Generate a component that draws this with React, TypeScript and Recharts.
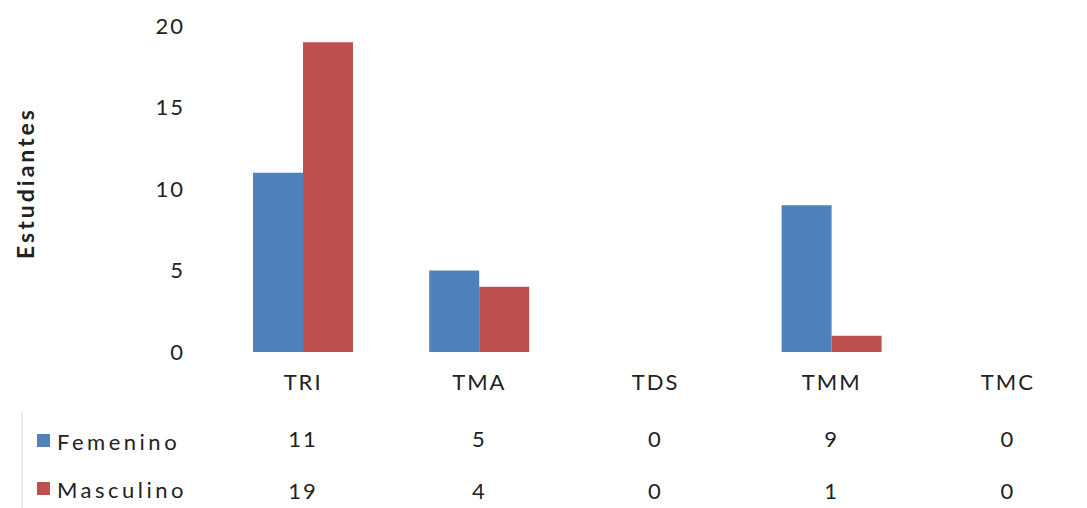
import React from 'react';
import { BarChart, Bar, XAxis, YAxis } from 'recharts';

const categories = ['TRI', 'TMA', 'TDS', 'TMM', 'TMC'];
const femenino = [11, 5, 0, 9, 0];
const masculino = [19, 4, 0, 1, 0];
const yTicks = [0, 5, 10, 15, 20];

const BLUE = '#4F81BD';
const RED = '#C0504D';
const FONT = 'Lato, "Open Sans", sans-serif';

const data = categories.map((cat, i) => ({
  cat,
  femenino: femenino[i],
  masculino: masculino[i]
}));

const textStyle = { fontFamily: FONT, fontSize: 22, fill: '#222', letterSpacing: 2 };

// legend key + series name drawn to the left of a data-table row
const rowLabel = (name: string, color: string) => (props: any) => {
  const vb = props.viewBox || {};
  const cy = vb.y + vb.height / 2 + 3;
  return (
    <g>
      <line x1={22} x2={22} y1={vb.y} y2={vb.y + vb.height} stroke="#dcdcdc" strokeWidth={1} />
      <rect x={37} y={cy - 7} width={13} height={13} fill={color} />
      <text x={57} y={cy} dominantBaseline="central" {...textStyle} letterSpacing={3.5}>
        {name}
      </text>
    </g>
  );
};

const yLabel = (props: any) => {
  const vb = props.viewBox || {};
  const cy = vb.y + vb.height / 2 - 6;
  return (
    <text
      x={25}
      y={cy}
      transform={`rotate(-90, 25, ${cy})`}
      textAnchor="middle"
      dominantBaseline="central"
      fontFamily={FONT}
      fontSize={23}
      fontWeight="bold"
      fill="#222"
      letterSpacing={3}
    >
      Estudiantes
    </text>
  );
};

export default function App() {
  return (
    <div style={{ position: 'absolute', left: 0, top: 0, width: 1087, height: 508, overflow: 'hidden', background: '#fff' }}>
      <BarChart
        width={1100}
        height={508}
        data={data}
        margin={{ top: 26, right: 4, left: 0, bottom: 0 }}
        barGap={0}
        barSize={50}
      >
        <XAxis
          dataKey="cat"
          axisLine={false}
          tickLine={false}
          tickSize={0}
          tickMargin={22}
          height={60}
          tick={textStyle}
        />
        <XAxis
          xAxisId="fem"
          dataKey="cat"
          axisLine={false}
          tickLine={false}
          tickSize={0}
          tickMargin={19}
          height={52}
          tick={textStyle}
          tickFormatter={(_v: any, i: number) => String(femenino[i])}
          label={{ content: rowLabel('Femenino', BLUE) }}
        />
        <XAxis
          xAxisId="masc"
          dataKey="cat"
          axisLine={false}
          tickLine={false}
          tickSize={0}
          tickMargin={19}
          height={44}
          tick={textStyle}
          tickFormatter={(_v: any, i: number) => String(masculino[i])}
          label={{ content: rowLabel('Masculino', RED) }}
        />
        <YAxis
          domain={[0, 20]}
          ticks={yTicks}
          axisLine={false}
          tickLine={false}
          tickSize={0}
          tickMargin={30}
          width={215}
          tick={textStyle}
          label={{ content: yLabel }}
        />
        <Bar dataKey="femenino" fill={BLUE} isAnimationActive={false} />
        <Bar dataKey="masculino" fill={RED} isAnimationActive={false} />
      </BarChart>
    </div>
  );
}
